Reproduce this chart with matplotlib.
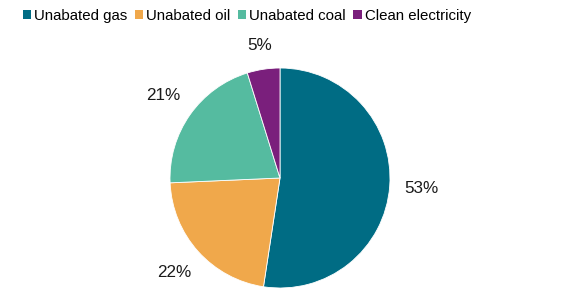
import numpy as np
import matplotlib.pyplot as plt
from matplotlib.patches import Patch

plt.rcParams['font.family'] = ['Liberation Sans', 'DejaVu Sans']

# shares (labels as printed on the chart)
categories = ["Unabated gas", "Unabated oil", "Unabated coal", "Clean electricity"]
shares = [52.4, 21.9, 20.9, 4.8]
share_labels = ["53%", "22%", "21%", "5%"]
colors = ["#006c84", "#f0a84b", "#55bba0", "#7a1f7c"]

fig = plt.figure(figsize=(5.76, 3.03), dpi=100)
# pie centre at ~(280, 178) px, radius ~110 px
r_px = 110
cx, cy = 280, 178
ax = fig.add_axes([(cx - r_px) / 576, (303 - cy - r_px) / 303, 2 * r_px / 576, 2 * r_px / 303])

wedges, texts = ax.pie(shares, colors=colors, startangle=90, counterclock=False,
                       wedgeprops=dict(linewidth=0.6, edgecolor="white"))
ax.set_xlim(-1, 1)
ax.set_ylim(-1, 1)
ax.set_aspect("equal")

# put each label just outside its wedge, with its nearest edge at a fixed gap
fig.canvas.draw()
renderer = fig.canvas.get_renderer()
px_per_unit = r_px
gap = 1.13
for w, lab in zip(wedges, share_labels):
    ang = np.deg2rad((w.theta1 + w.theta2) / 2)
    ux, uy = np.cos(ang), np.sin(ang)
    t = ax.text(0, 0, lab, ha="center", va="center", fontsize=12.3,
                color="#1a1a1a", clip_on=False)
    bb = t.get_window_extent(renderer)
    half = (abs(ux) * bb.width / 2 + abs(uy) * bb.height / 2) / px_per_unit
    d = gap + half
    t.set_position((ux * d, uy * d))

handles = [Patch(facecolor=c, edgecolor="none") for c in colors]
fig.legend(handles, categories, loc="center left", bbox_to_anchor=(0.04, 0.947),
           ncol=4, frameon=False, fontsize=10.8, handlelength=0.55, handleheight=0.55,
           handletextpad=0.2, columnspacing=0.5, borderaxespad=0, borderpad=0)

fig.savefig("out.png", dpi=100)
